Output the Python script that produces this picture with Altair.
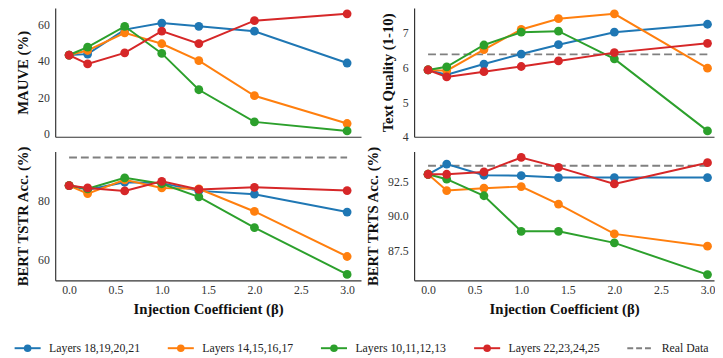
import altair as alt
import pandas as pd

beta = [0.0, 0.2, 0.6, 1.0, 1.4, 2.0, 3.0]
series_names = ["Layers 18,19,20,21", "Layers 14,15,16,17", "Layers 10,11,12,13", "Layers 22,23,24,25"]
real_label = "Real Data"
colors = ["#1f77b4", "#ff7f0e", "#2ca02c", "#d62728"]
real_color = "#808080"

# MAUVE (%)
mauve_l18 = [43.3, 43.8, 57.3, 60.9, 59.1, 56.4, 38.9]
mauve_l14 = [43.3, 45.8, 55.5, 49.5, 40.2, 20.9, 5.6]
mauve_l10 = [43.3, 47.6, 59.1, 44.2, 24.2, 6.5, 1.5]
mauve_l22 = [43.3, 38.4, 44.5, 56.5, 49.6, 62.2, 66.0]

# Text Quality (1-10)
quality_l18 = [5.93, 5.79, 6.10, 6.39, 6.66, 7.02, 7.25]
quality_l14 = [5.93, 5.91, 6.52, 7.10, 7.41, 7.55, 5.98]
quality_l10 = [5.93, 6.02, 6.65, 7.02, 7.05, 6.25, 4.17]
quality_l22 = [5.93, 5.73, 5.88, 6.03, 6.19, 6.43, 6.70]
quality_real = 6.38

# BERT TSTR Acc. (%)
tstr_l18 = [84.9, 83.5, 86.0, 85.7, 83.1, 82.0, 76.0]
tstr_l14 = [84.9, 82.2, 86.8, 84.1, 83.8, 76.2, 61.1]
tstr_l10 = [84.9, 83.8, 87.5, 85.5, 81.1, 70.8, 55.1]
tstr_l22 = [84.9, 84.1, 83.1, 86.3, 83.6, 84.3, 83.2]
tstr_real = 94.3

# BERT TRTS Acc. (%)
trts_l18 = [93.03, 93.77, 92.96, 92.93, 92.79, 92.79, 92.79]
trts_l14 = [93.03, 91.85, 92.02, 92.14, 90.87, 88.70, 87.81]
trts_l10 = [93.03, 92.67, 91.47, 88.89, 88.89, 88.05, 85.75]
trts_l22 = [93.03, 93.03, 93.20, 94.25, 93.53, 92.33, 93.87]
trts_real = 93.65

metric_lists = {
    "mauve": [mauve_l18, mauve_l14, mauve_l10, mauve_l22],
    "quality": [quality_l18, quality_l14, quality_l10, quality_l22],
    "tstr": [tstr_l18, tstr_l14, tstr_l10, tstr_l22],
    "trts": [trts_l18, trts_l14, trts_l10, trts_l22],
}

rows = []
for si, s in enumerate(series_names):
    for bi, b in enumerate(beta):
        row = {"beta": b, "series": s}
        for m, lists in metric_lists.items():
            row[m] = lists[si][bi]
        rows.append(row)
df = pd.DataFrame(rows)

FONT = "Liberation Serif"
color_scale = alt.Scale(domain=series_names + [real_label], range=colors + [real_color])
XTITLE = "Injection Coefficient (β)"


def panel(field, ytitle, ydomain, yticks, yfmt, real, width, xdomain, show_x):
    if show_x:
        xaxis = alt.Axis(values=[0.0, 0.5, 1.0, 1.5, 2.0, 2.5, 3.0], format=".1f",
                         title=XTITLE, labelPadding=4, titlePadding=7)
    else:
        xaxis = alt.Axis(labels=False, title=None)
    xs = alt.Scale(domain=xdomain, nice=False, zero=False)
    ys = alt.Scale(domain=ydomain, nice=False, zero=False)
    yaxis = alt.Axis(values=yticks, format=yfmt, title=ytitle, labelPadding=6, titlePadding=7)
    layers = []
    if real is not None:
        rdf = pd.DataFrame({"beta": [beta[0]], "beta2": [beta[-1]], field: [real], "series": [real_label]})
        layers.append(
            alt.Chart(rdf).mark_rule(strokeDash=[8, 4], strokeWidth=2).encode(
                x=alt.X("beta:Q", scale=xs, axis=xaxis),
                x2="beta2:Q",
                y=alt.Y(f"{field}:Q", scale=ys, axis=yaxis),
                color=alt.Color("series:N", scale=color_scale, legend=None),
            )
        )
    for s in series_names:
        sub = df[df["series"] == s]
        enc = dict(
            x=alt.X("beta:Q", scale=xs, axis=xaxis),
            y=alt.Y(f"{field}:Q", scale=ys, axis=yaxis),
            color=alt.Color("series:N", scale=color_scale, legend=None),
        )
        layers.append(alt.Chart(sub).mark_line(strokeWidth=2).encode(**enc))
        layers.append(alt.Chart(sub).mark_point(filled=True, size=80, opacity=1).encode(**enc))
    return alt.layer(*layers).properties(width=width, height=131)


WL, WR = 311, 305
XL = [-0.15, 3.15]
XR = [-0.15, 3.07]

p1 = panel("mauve", "MAUVE (%)", [-1.7, 69.2], [0, 20, 40, 60], "d", None, WL, XL, False)
p2 = panel("quality", "Text Quality (1-10)", [4.0, 7.72], [4, 5, 6, 7], "d", quality_real, WR, XR, False)
p3 = panel("tstr", "BERT TSTR Acc. (%)", [53.1, 96.3], [60, 80], "d", tstr_real, WL, XL, True)
p4 = panel("trts", "BERT TRTS Acc. (%)", [85.33, 94.68], [87.5, 90.0, 92.5], ".1f", trts_real, WR, XR, True)

grid = alt.concat(p1, p2, p3, p4, columns=2, spacing={"row": 15, "column": 54}, bounds="flush").resolve_scale(
    x="independent", y="independent")

# legend row (its origin lines up with the left plot's origin)
leg_labels = series_names + [real_label]
leg_df = pd.DataFrame({"i": list(range(len(leg_labels))), "label": leg_labels})
lx = alt.Scale(domain=[0.18, 4.417], nice=False, zero=False)
lcol = alt.Color("label:N", scale=color_scale, legend=None)
leg_base = alt.Chart(leg_df).transform_calculate(a="datum.i - 0.085", b="datum.i + 0.085", t="datum.i + 0.14")
leg_lines = leg_base.transform_filter(f"datum.label != '{real_label}'").mark_rule(strokeWidth=2).encode(
    x=alt.X("a:Q", scale=lx, axis=None), x2="b:Q", y=alt.value(7), color=lcol)
leg_dash = leg_base.transform_filter(f"datum.label == '{real_label}'").mark_rule(strokeWidth=2, strokeDash=[6, 3]).encode(
    x=alt.X("a:Q", scale=lx, axis=None), x2="b:Q", y=alt.value(7), color=lcol)
leg_pts = leg_base.transform_filter(f"datum.label != '{real_label}'").mark_point(filled=True, size=60, opacity=1).encode(
    x=alt.X("i:Q", scale=lx, axis=None), y=alt.value(7), color=lcol)
leg_txt = leg_base.mark_text(align="left", baseline="middle", fontSize=12, font=FONT, color="#222").encode(
    x=alt.X("t:Q", scale=lx, axis=None), y=alt.value(7), text="label:N")
legend = alt.layer(leg_lines, leg_dash, leg_pts, leg_txt).properties(width=660, height=14)

chart = alt.vconcat(grid, legend, spacing=25).resolve_scale(x="independent", y="independent").properties(
    padding={"top": -3, "left": 5, "right": 0, "bottom": 0}
).configure_view(strokeWidth=0).configure_axis(
    labelFont=FONT, titleFont=FONT, labelFontSize=12, titleFontSize=15, titleFontWeight="bold",
    labelColor="#333", titleColor="#111", domainColor="#333", domainWidth=1.2, ticks=False, grid=False,
)

chart.save("out.html", embed_options={"renderer": "svg", "actions": False})
